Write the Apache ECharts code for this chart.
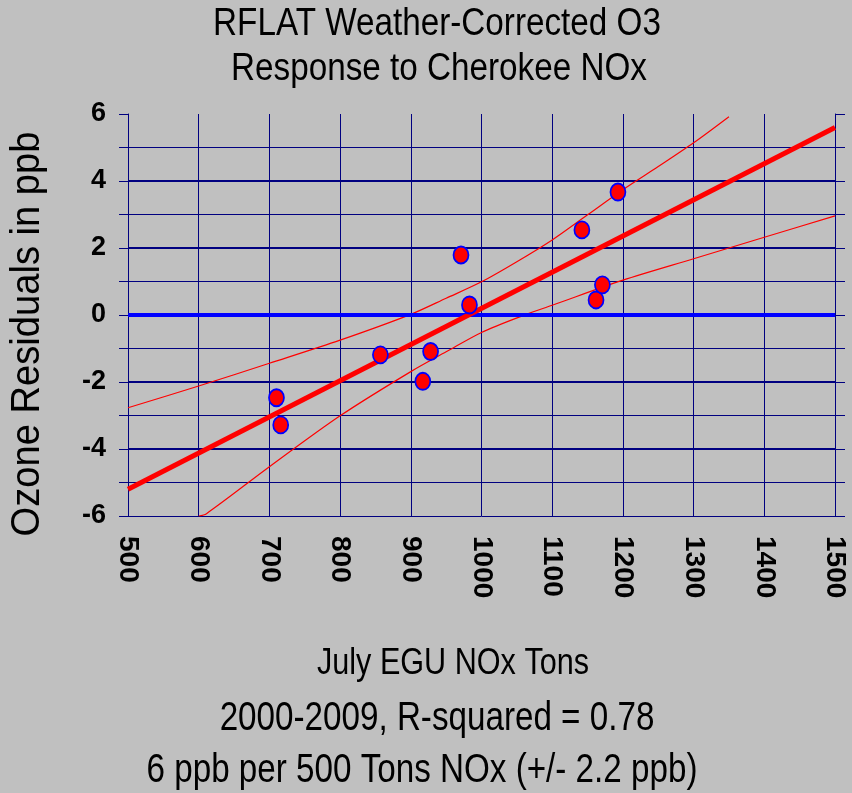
<!DOCTYPE html>
<html>
<head>
<meta charset="utf-8">
<script src="https://cdn.jsdelivr.net/npm/echarts@6/dist/echarts.min.js"></script>
<style>
  html, body { margin: 0; padding: 0; background: #c0c0c0; }
  #chart { width: 852px; height: 793px; }
</style>
</head>
<body>
<div id="chart"></div>
<script>
// July EGU NOx tons vs weather-corrected ozone residuals (ppb), one point per year
const noxTons  = [710, 716, 857, 917, 928, 971, 983, 1142, 1162, 1171, 1193];
const o3Resid  = [-2.47, -3.28, -1.19, -1.98, -1.09, 1.79, 0.30, 2.54, 0.45, 0.90, 3.67];

// Least-squares fit line end points
const fitX = [500, 1500];
const fitY = [-5.2, 5.6];

// Confidence band traces
const upperX = [500, 600, 700, 800, 900, 950, 1000, 1050, 1100, 1150, 1200, 1250, 1300, 1350];
const upperY = [-2.77, -2.12, -1.44, -0.75, 0.02, 0.50, 0.99, 1.59, 2.24, 2.99, 3.74, 4.43, 5.14, 5.92];
const lowerX = [600, 611, 700, 800, 900, 950, 1000, 1061, 1100, 1200, 1300, 1400, 1500];
const lowerY = [-6.0, -5.93, -4.53, -3.01, -1.69, -1.10, -0.52, 0.0, 0.29, 1.04, 1.68, 2.32, 2.96];

// Axis ranges and steps
const xRange = [500, 1500];
const xStep = 100;
const yRange = [-6, 6];
const yStep = 1;
const yLabelStep = 2;

// Text
const titleLines = ['RFLAT Weather-Corrected O3', 'Response to Cherokee NOx'];
const yName = 'Ozone Residuals in ppb';
const footLines = ['July EGU NOx Tons', '2000-2009, R-squared = 0.78', '6 ppb per 500 Tons NOx (+/- 2.2 ppb)'];

const FONT = "'Liberation Sans', Arial, sans-serif";
const GRID = '#000080';

const zip = (a, b) => a.map((v, i) => [v, b[i]]);

function txt(str, x, y, size, sx, rot) {
  return {
    type: 'text', x: x, y: y, rotation: rot || 0, scaleX: sx, silent: true,
    style: { text: str, fill: '#000', font: size + 'px ' + FONT, textAlign: 'center', textVerticalAlign: 'middle' }
  };
}

const chart = echarts.init(document.getElementById('chart'), null, { renderer: 'canvas' });
chart.setOption({
  backgroundColor: '#c0c0c0',
  animation: false,
  grid: { left: 128, top: 114, width: 707, height: 402, containLabel: false, outerBoundsMode: 'none' },
  xAxis: {
    type: 'value', min: xRange[0], max: xRange[1], interval: xStep,
    axisLine: { show: true, lineStyle: { color: GRID, width: 1 } },
    axisTick: { show: true, inside: false, length: 10, lineStyle: { color: GRID, width: 1 } },
    axisLabel: {
      rotate: -90, margin: 20, color: '#000', fontFamily: FONT, fontWeight: 'bold', fontSize: 28,
      formatter: v => String(v)
    },
    splitLine: { show: true, showMinLine: true, showMaxLine: true, lineStyle: { color: GRID, width: 1 } }
  },
  yAxis: [
    {
      type: 'value', position: 'left', min: yRange[0], max: yRange[1], interval: yStep,
      axisLine: { show: true, lineStyle: { color: GRID, width: 1 } },
      axisTick: { show: true, inside: false, length: 9, lineStyle: { color: GRID, width: 1 } },
      axisLabel: {
        margin: 22, color: '#000', fontFamily: FONT, fontWeight: 'bold', fontSize: 27,
        formatter: v => (v % yLabelStep === 0 ? String(v) : '')
      },
      splitLine: { show: true, showMinLine: true, showMaxLine: false, lineStyle: { color: GRID, width: 1 } }
    },
    {
      type: 'value', position: 'right', min: yRange[0], max: yRange[1], interval: yStep,
      axisLine: { show: true, lineStyle: { color: GRID, width: 1 } },
      axisTick: { show: true, inside: false, length: 10, lineStyle: { color: GRID, width: 1 } },
      axisLabel: { show: false },
      splitLine: { show: false }
    },
    {
      type: 'value', position: 'left', min: yRange[0], max: yRange[1], interval: yLabelStep,
      axisLine: { show: false }, axisTick: { show: false }, axisLabel: { show: false },
      splitLine: { show: true, showMinLine: false, showMaxLine: false, lineStyle: { color: GRID, width: 2 } }
    }
  ],
  series: [
    {
      // zero reference line
      type: 'line', data: [], silent: true, z: 3,
      markLine: {
        silent: true, symbol: 'none', label: { show: false },
        lineStyle: { color: '#0000ff', width: 4, type: 'solid' },
        data: [{ yAxis: 0 }]
      }
    },
    {
      type: 'line', data: zip(upperX, upperY), smooth: 0.3, showSymbol: false, silent: true, z: 4,
      lineStyle: { color: '#ff0000', width: 1.2 }
    },
    {
      type: 'line', data: zip(lowerX, lowerY), smooth: 0.3, showSymbol: false, silent: true, z: 4,
      lineStyle: { color: '#ff0000', width: 1.2 }
    },
    {
      type: 'line', data: zip(fitX, fitY), showSymbol: false, silent: true, z: 5,
      lineStyle: { color: '#ff0000', width: 5 }
    },
    {
      type: 'scatter', data: zip(noxTons, o3Resid), symbol: 'circle', symbolSize: [15, 17], z: 6,
      itemStyle: { color: '#ff0000', borderColor: '#0000ff', borderWidth: 1.8, opacity: 1 }
    }
  ],
  graphic: [
    txt(titleLines[0], 437, 25, 38, 0.875),
    txt(titleLines[1], 439, 70, 38, 0.875),
    txt(yName, 28, 334, 41, 0.93, Math.PI / 2),
    txt(footLines[0], 453, 664, 36, 0.85),
    txt(footLines[1], 437, 719, 40, 0.83),
    txt(footLines[2], 422, 771, 40, 0.83)
  ]
});
</script>
</body>
</html>
